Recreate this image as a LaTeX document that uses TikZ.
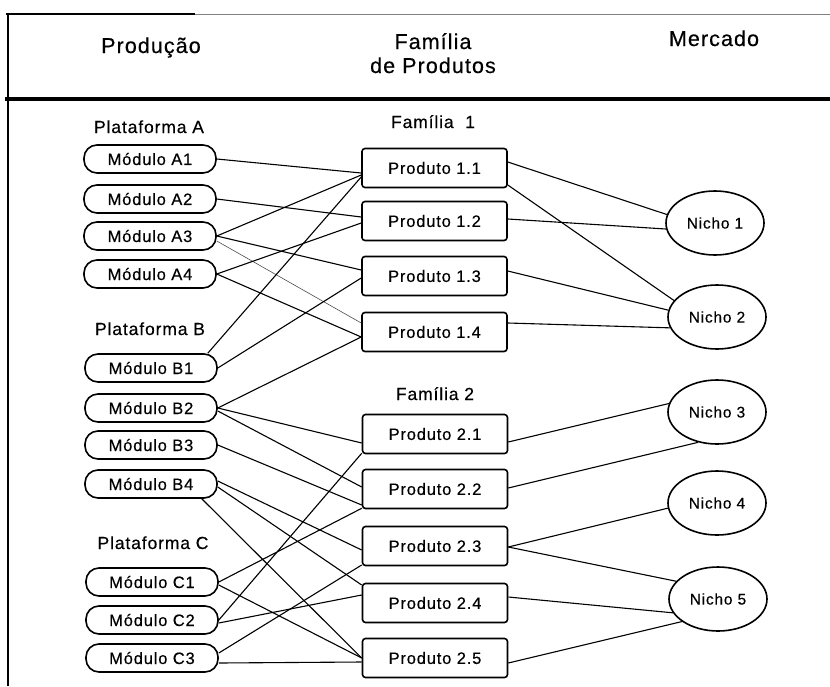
\documentclass[tikz,border=0pt]{standalone}
\usepackage{fontspec}
\setmainfont{Liberation Sans}[LetterSpace=5, FakeBold=0.4]
\usetikzlibrary{shapes.geometric}
\begin{document}
\begin{tikzpicture}[x=1pt,y=-1pt,
  modbox/.style={draw, line width=1.6pt, rounded corners=13pt, minimum width=132pt,
    minimum height=28pt, inner sep=0pt, font=\fontsize{16.5}{19}\selectfont},
  prodbox/.style={draw, line width=1.6pt, rounded corners=3pt, minimum width=145pt,
    minimum height=39pt, inner sep=0pt, font=\fontsize{16.5}{19}\selectfont},
  nicho/.style={draw, ellipse, line width=1.6pt, minimum width=98pt, minimum height=64pt,
    inner sep=0pt, font=\fontsize{15.5}{18}\selectfont},
  grouplabel/.style={anchor=base, inner sep=0pt, font=\fontsize{17.5}{20}\selectfont},
  headlabel/.style={anchor=base, inner sep=0pt, font=\fontsize{21.5}{24}\selectfont},
  link/.style={line width=1.1pt},
  faintlink/.style={line width=0.6pt, black!70}
]
\useasboundingbox (0,0) rectangle (830,686);

% header frame
\draw[line width=1.2pt] (6,14) -- (195,14);
\draw[line width=0.8pt, black!50] (195,14) -- (830,14);
\draw[line width=1.3pt] (8,14) -- (8,686);
\draw[line width=4pt] (5,99) -- (830,99);

\node[headlabel] (hProd) at (151,53) {Produção};
\node[headlabel] (hFam1) at (433,49) {Família};
\node[headlabel] (hFam2) at (433,73) {de Produtos};
\node[headlabel] (hMerc) at (714,46) {Mercado};

% production: platforms and modules
\node[grouplabel] (platA) at (149,133) {Plataforma A};
\node[grouplabel] (platB) at (150,335) {Plataforma B};
\node[grouplabel] (platC) at (153,549) {Plataforma C};

\node[modbox] (A1) at (150,159) {Módulo A1};
\node[modbox] (A2) at (150,199) {Módulo A2};
\node[modbox] (A3) at (150,236) {Módulo A3};
\node[modbox] (A4) at (150,274) {Módulo A4};
\node[modbox] (B1) at (151,368) {Módulo B1};
\node[modbox] (B2) at (151,408) {Módulo B2};
\node[modbox] (B3) at (151,445) {Módulo B3};
\node[modbox] (B4) at (151,484) {Módulo B4};
\node[modbox] (C1) at (152,582) {Módulo C1};
\node[modbox] (C2) at (152,620) {Módulo C2};
\node[modbox] (C3) at (152,658) {Módulo C3};

% product families
\node[grouplabel] (fam1) at (433,128) {Família\ \ 1};
\node[grouplabel] (fam2) at (435,400) {Família 2};

\node[prodbox] (P11) at (434.5,168) {Produto 1.1};
\node[prodbox] (P12) at (434.5,221) {Produto 1.2};
\node[prodbox] (P13) at (434.5,276) {Produto 1.3};
\node[prodbox] (P14) at (434.5,332) {Produto 1.4};
\node[prodbox] (P21) at (435,434) {Produto 2.1};
\node[prodbox] (P22) at (435,489) {Produto 2.2};
\node[prodbox] (P23) at (435,546) {Produto 2.3};
\node[prodbox] (P24) at (435,603) {Produto 2.4};
\node[prodbox] (P25) at (435,658) {Produto 2.5};

% market niches
\node[nicho] (N1) at (715,223) {Nicho 1};
\node[nicho] (N2) at (717,317) {Nicho 2};
\node[nicho] (N3) at (717,412) {Nicho 3};
\node[nicho] (N4) at (717,503) {Nicho 4};
\node[nicho] (N5) at (718,599) {Nicho 5};

% modules -> products, family 1
\draw[link] (A1.east) -- ([yshift=-5pt]P11.west);
\draw[link] (A2.east) -- ([yshift=4pt]P12.west);
\draw[link] (A3.east) -- ([yshift=-7pt]P11.west);
\draw[link] (A3.east) -- ([yshift=6pt]P13.west);
\draw[faintlink] ([yshift=-5pt]A3.east) -- ([yshift=9pt]P14.west);
\draw[link] (A4.east) -- ([yshift=-2pt]P12.west);
\draw[link] (A4.east) -- ([yshift=-5pt]P14.west);
\draw[link] ([xshift=-10pt]B1.north east) -- ([yshift=-9pt]P11.west);
\draw[link] (B1.east) -- ([yshift=-2pt]P13.west);
\draw[link] (B2.east) -- ([yshift=-5pt]P14.west);

% modules -> products, family 2
\draw[link] (B2.east) -- ([yshift=-9pt]P21.west);
\draw[link] ([yshift=-3pt]B2.east) -- ([yshift=2pt]P22.west);
\draw[link] (B3.east) -- ([yshift=-16pt]P22.west);
\draw[link] ([yshift=3pt]B4.east) -- ([yshift=-4pt]P23.west);
\draw[link] ([yshift=-3pt]B4.east) -- ([yshift=18pt]P24.west);
\draw[link] ([xshift=-16pt]B4.south east) -- (P25.west);
\draw[link] (C1.east) -- ([yshift=1pt]P22.south west);
\draw[link] ([yshift=-3pt]C1.east) -- (P25.west);
\draw[link] (C2.east) -- ([yshift=1pt]P21.south west);
\draw[link] ([yshift=-3pt]C2.east) -- ([yshift=8pt]P24.west);
\draw[link] ([yshift=5pt]C3.east) -- ([yshift=-19pt]P23.west);
\draw[link] ([yshift=-5pt]C3.east) -- ([yshift=-4pt]P25.west);

% products -> niches
\draw[link] ([yshift=6pt]P11.east) -- (N1.170);
\draw[link] ([yshift=-17pt]P11.east) -- (N2.159);
\draw[link] ([yshift=2pt]P12.east) -- (N1.187);
\draw[link] ([yshift=5pt]P13.east) -- (N2.172);
\draw[link] ([yshift=9pt]P14.east) -- (N2.193);
\draw[link] ([yshift=-8pt]P21.east) -- (N3.170);
\draw[link] ([yshift=1pt]P22.east) -- (N3.238);
\draw[link] ([yshift=-1pt]P23.east) -- (N4.186);
\draw[link] ([yshift=-1pt]P23.east) -- (N5.157);
\draw[link] ([yshift=6pt]P24.east) -- (N5.197);
\draw[link] ([yshift=-5pt]P25.east) -- (N5.212);
\end{tikzpicture}
\end{document}
